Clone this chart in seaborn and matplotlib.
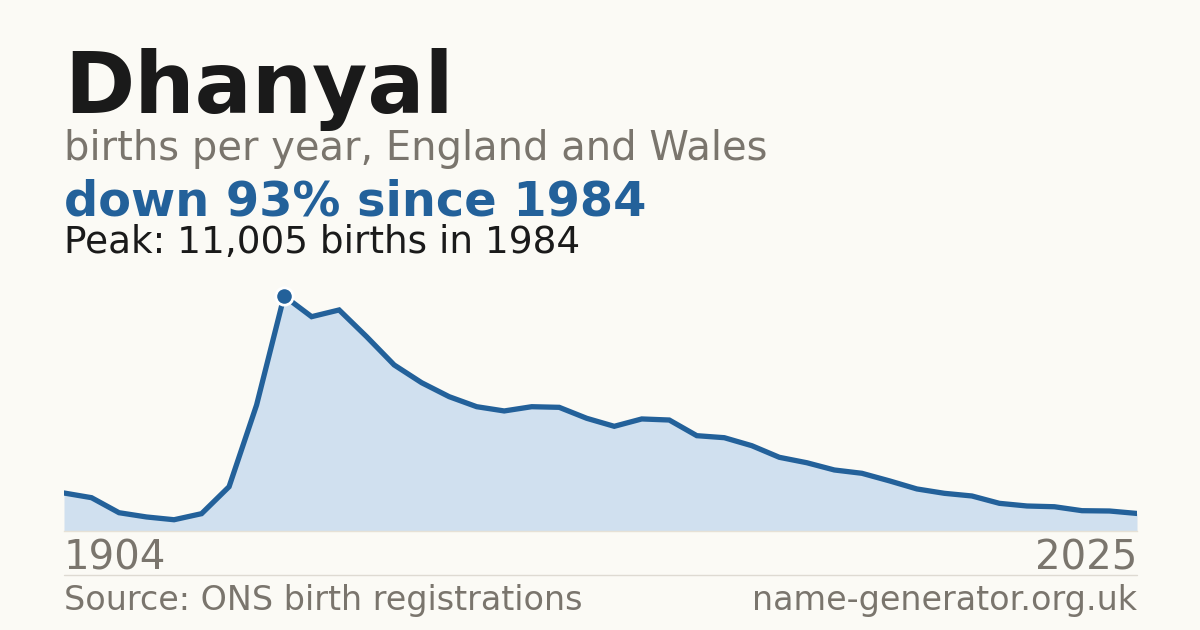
import numpy as np
import pandas as pd
import matplotlib
matplotlib.use("Agg")
import matplotlib.pyplot as plt
import seaborn as sns

# births per year, evenly spaced points
births = [1760, 1540, 835, 635, 505, 790, 2055, 5890, 11005, 10035,
          10350, 9095, 7770, 6935, 6280, 5810, 5610, 5810, 5780, 5265,
          4890, 5235, 5185, 4450, 4355, 3980, 3435, 3180, 2840, 2685,
          2330, 1950, 1745, 1620, 1275, 1150, 1115, 930, 915, 800]
first_year = 1904
last_year = 2025
peak_year = 1984
peak_births = 11005

name = "Dhanyal"
subtitle = "births per year, England and Wales"
headline = "down 93% since 1984"
peak_text = "Peak: 11,005 births in 1984"
source = "Source: ONS birth registrations"
site = "name-generator.org.uk"

bg = "#fbfaf5"
blue = "#23619a"
fill = "#d0e0ef"
grey = "#7a756d"
ink = "#1a1a1a"

df = pd.DataFrame({"pos": np.arange(len(births)), "births": births})
peak_pos = int(np.argmax(births))

sns.set_theme(style="white")
plt.rcParams["font.family"] = ["DejaVu Sans"]

fig = plt.figure(figsize=(12, 6.3), dpi=100, facecolor=bg)
ax = fig.add_axes([64 / 1200, 1 - 530.5 / 630, (1137 - 64) / 1200, 255.7 / 630])
ax.set_facecolor(bg)

ax.fill_between(df["pos"], df["births"], 0, color=fill, linewidth=0)
sns.lineplot(data=df, x="pos", y="births", ax=ax, color=blue, linewidth=3.8,
             solid_joinstyle="miter")
ax.plot([peak_pos], [births[peak_pos]], marker="o", markersize=12.5,
        color=blue, markeredgecolor="white", markeredgewidth=2)

ax.set_xlim(0, len(births) - 1)
ax.set_ylim(0, 12000)
ax.set_xticks([])
ax.set_yticks([])
ax.set_xlabel("")
ax.set_ylabel("")
for s in ["top", "left", "right"]:
    ax.spines[s].set_visible(False)
ax.spines["bottom"].set_color("#e6e1d6")
ax.spines["bottom"].set_linewidth(1)

# header texts
fig.text(64 / 1200, 1 - 113 / 630, name, fontsize=61, fontweight="bold", color=ink)
fig.text(64 / 1200, 1 - 160 / 630, subtitle, fontsize=28.8, color=grey)
fig.text(64 / 1200, 1 - 215 / 630, headline, fontsize=34.5, fontweight="bold", color=blue)
fig.text(64 / 1200, 1 - 253 / 630, peak_text, fontsize=26.9, color=ink)

# axis end labels
fig.text(64 / 1200, 1 - 570 / 630, str(first_year), fontsize=29, color=grey)
fig.text(1137 / 1200, 1 - 570 / 630, str(last_year), fontsize=29, color=grey, ha="right")

fig.add_artist(plt.Line2D([64 / 1200, 1137 / 1200], [1 - 574.5 / 630] * 2,
                          color="#dedad2", linewidth=1))

fig.text(64 / 1200, 1 - 610 / 630, source, fontsize=24, color=grey)
fig.text(1137 / 1200, 1 - 610 / 630, site, fontsize=24, color=grey, ha="right")

fig.savefig("out.png", dpi=100, facecolor=bg)
